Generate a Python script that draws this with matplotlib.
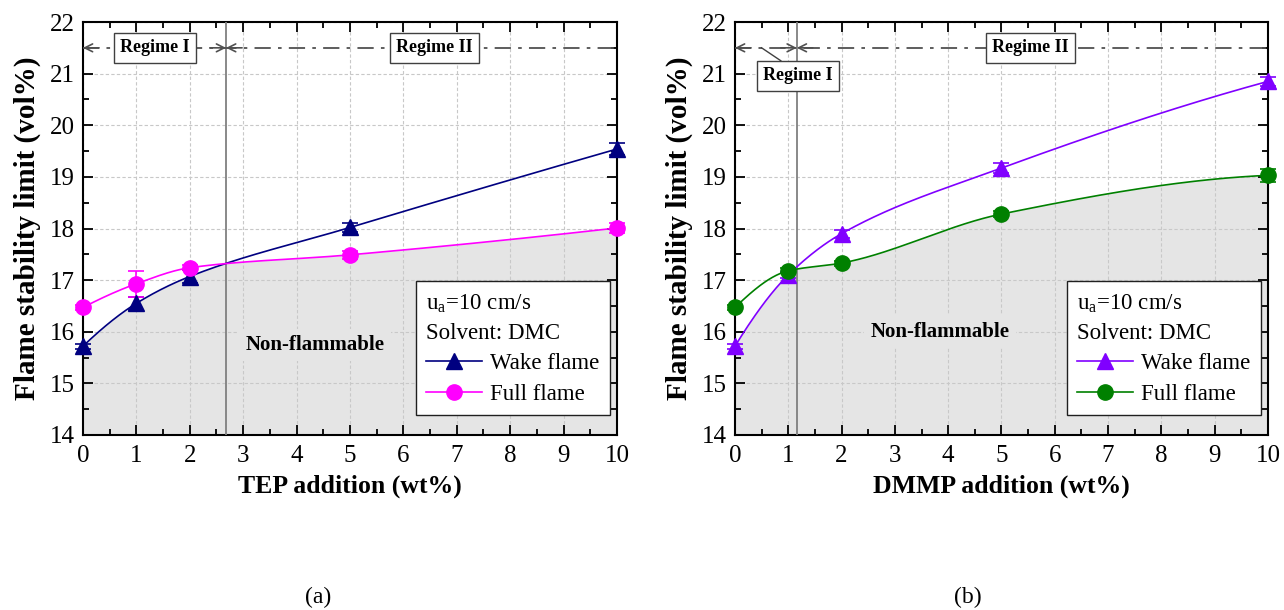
import numpy as np
import matplotlib
matplotlib.use("Agg")
import matplotlib.pyplot as plt
from matplotlib.lines import Line2D
from matplotlib.ticker import MultipleLocator

plt.rcParams['font.family'] = ['Liberation Serif', 'DejaVu Serif']
plt.rcParams['mathtext.fontset'] = 'custom'
plt.rcParams['mathtext.rm'] = 'Liberation Serif'

# ---------------- data ----------------
x_add = [0, 1, 2, 5, 10]

# (a) TEP
tep_wake = [15.72, 16.55, 17.07, 18.02, 19.54]
tep_wake_err = [0.05, 0.12, 0.12, 0.08, 0.12]
tep_full = [16.47, 16.93, 17.24, 17.49, 18.01]
tep_full_err = [0.05, 0.25, 0.05, 0.08, 0.10]
tep_boundary = 2.68

# (b) DMMP
dmmp_wake = [15.72, 17.10, 17.90, 19.17, 20.85]
dmmp_wake_err = [0.05, 0.05, 0.08, 0.10, 0.08]
dmmp_full = [16.47, 17.18, 17.33, 18.28, 19.03]
dmmp_full_err = [0.05, 0.05, 0.05, 0.05, 0.12]
dmmp_boundary = 1.16

regime_y = 21.5
xlabels = ['TEP addition (wt%)', 'DMMP addition (wt%)']
ylabel = 'Flame stability limit (vol%)'
captions = ['(a)', '(b)']
legend_title = 'u$_{\\mathrm{a}}$=10 cm/s\nSolvent: DMC'


def pchip(x, y, xs):
    x = np.asarray(x, float); y = np.asarray(y, float)
    h = np.diff(x); d = np.diff(y) / h
    n = len(x)
    m = np.zeros(n)
    for k in range(1, n - 1):
        if d[k - 1] * d[k] > 0:
            w1 = 2 * h[k] + h[k - 1]; w2 = h[k] + 2 * h[k - 1]
            m[k] = (w1 + w2) / (w1 / d[k - 1] + w2 / d[k])
    m[0] = ((2 * h[0] + h[1]) * d[0] - h[0] * d[1]) / (h[0] + h[1])
    if np.sign(m[0]) != np.sign(d[0]):
        m[0] = 0
    elif np.sign(d[0]) != np.sign(d[1]) and abs(m[0]) > 3 * abs(d[0]):
        m[0] = 3 * d[0]
    m[-1] = ((2 * h[-1] + h[-2]) * d[-1] - h[-1] * d[-2]) / (h[-1] + h[-2])
    if np.sign(m[-1]) != np.sign(d[-1]):
        m[-1] = 0
    elif np.sign(d[-1]) != np.sign(d[-2]) and abs(m[-1]) > 3 * abs(d[-1]):
        m[-1] = 3 * d[-1]
    out = np.empty_like(xs)
    for j, xv in enumerate(xs):
        i = min(max(np.searchsorted(x, xv) - 1, 0), n - 2)
        t = (xv - x[i]) / h[i]
        h00 = 2 * t ** 3 - 3 * t ** 2 + 1; h10 = t ** 3 - 2 * t ** 2 + t
        h01 = -2 * t ** 3 + 3 * t ** 2; h11 = t ** 3 - t ** 2
        out[j] = h00 * y[i] + h10 * h[i] * m[i] + h01 * y[i + 1] + h11 * h[i] * m[i + 1]
    return out


fig = plt.figure(figsize=(12.84, 6.10), dpi=100)
ax_a = fig.add_axes([0.0646, 0.2869, 0.4159, 0.677])
ax_b = fig.add_axes([0.5724, 0.2869, 0.4151, 0.677])

panels = [
    (ax_a, tep_wake, tep_wake_err, tep_full, tep_full_err, tep_boundary,
     '#000080', '#ff00ff', xlabels[0], captions[0]),
    (ax_b, dmmp_wake, dmmp_wake_err, dmmp_full, dmmp_full_err, dmmp_boundary,
     '#8000ff', '#008000', xlabels[1], captions[1]),
]

caption_x = [0.2477, 0.754]
xs = np.linspace(0, 10, 400)
for idx, (ax, wake, wake_e, full, full_e, bnd, cw, cf, xl, cap) in enumerate(panels):
    sw = pchip(x_add, wake, xs)
    sf = pchip(x_add, full, xs)
    ax.fill_between(xs, 14, np.minimum(sw, sf), color='#e5e5e5', lw=0, zorder=0.2)
    ax.plot(xs, sw, color=cw, lw=1.2, zorder=3)
    ax.plot(xs, sf, color=cf, lw=1.2, zorder=3)
    ax.errorbar(x_add, wake, yerr=wake_e, fmt='^', color=cw, ms=12, capsize=6,
                elinewidth=1.2, capthick=1.2, zorder=4, clip_on=False)
    ax.errorbar(x_add, full, yerr=full_e, fmt='o', color=cf, ms=11, capsize=6,
                elinewidth=1.2, capthick=1.2, zorder=4, clip_on=False)

    ax.axvline(bnd, color='#808080', lw=1.3, zorder=2.6)

    # regime arrows
    ax.plot([0, 10], [regime_y, regime_y], ls=(0, (9, 4, 2, 4)), color='#505050', lw=1.3, zorder=2.7)
    for xa, xb in [(0.3, 0), (bnd - 0.3, bnd), (bnd + 0.3, bnd)]:
        ax.annotate('', xy=(xb, regime_y), xytext=(xa, regime_y),
                    arrowprops=dict(arrowstyle='->', color='#505050', lw=1.2,
                                    shrinkA=0, shrinkB=0, mutation_scale=14), zorder=2.8)

    box = dict(boxstyle='square,pad=0.35', fc='white', ec='#404040', lw=1.0)
    nf_box = dict(boxstyle='square,pad=0.3', fc='#e5e5e5', ec='none')
    if idx == 0:
        ax.text(1.35, regime_y, 'Regime I', ha='center', va='center', fontsize=13,
                fontweight='bold', bbox=box, zorder=5)
        ax.text(6.58, regime_y, 'Regime II', ha='center', va='center', fontsize=13,
                fontweight='bold', bbox=box, zorder=5)
        ax.text(4.35, 15.74, 'Non-flammable', ha='center', va='center', fontsize=15,
                fontweight='bold', zorder=5, bbox=nf_box)
    else:
        ax.plot([0.5, 0.86], [21.5, 21.25], color='#404040', lw=1.0, zorder=2.9)
        ax.text(1.18, 20.96, 'Regime I', ha='center', va='center', fontsize=13,
                fontweight='bold', bbox=box, zorder=5)
        ax.text(5.55, regime_y, 'Regime II', ha='center', va='center', fontsize=13,
                fontweight='bold', bbox=box, zorder=5)
        ax.text(3.85, 16.0, 'Non-flammable', ha='center', va='center', fontsize=15,
                fontweight='bold', zorder=5, bbox=nf_box)

    ax.set_xlim(0, 10)
    ax.set_ylim(14, 22)
    ax.xaxis.set_major_locator(MultipleLocator(1))
    ax.xaxis.set_minor_locator(MultipleLocator(0.5))
    ax.yaxis.set_major_locator(MultipleLocator(1))
    ax.yaxis.set_minor_locator(MultipleLocator(0.5))
    ax.tick_params(which='both', direction='in', top=True, right=True, width=1.3)
    ax.tick_params(which='major', length=7, labelsize=18)
    ax.tick_params(axis='x', which='major', pad=7)
    ax.tick_params(axis='y', which='major', pad=6)
    ax.tick_params(which='minor', length=4)
    ax.set_axisbelow('line')
    ax.grid(True, which='major', ls=(0, (3, 2)), color='#c8c8c8', lw=0.8)
    for sp in ax.spines.values():
        sp.set_linewidth(1.5)
    ax.set_xlabel(xl, fontsize=18.5, fontweight='bold', labelpad=6)
    ax.set_ylabel(ylabel, fontsize=21, fontweight='bold', labelpad=6)

    handles = [Line2D([], [], color=cw, marker='^', ms=12, lw=1.2),
               Line2D([], [], color=cf, marker='o', ms=11, lw=1.2)]
    leg = ax.legend(handles, ['Wake flame', 'Full flame'], title=legend_title,
                    loc='lower right', bbox_to_anchor=(0.987, 0.048), borderaxespad=0,
                    fontsize=16.5, title_fontsize=16.5, alignment='left',
                    fancybox=False, edgecolor='#202020', framealpha=1,
                    handlelength=2.45, handletextpad=0.35, labelspacing=0.42,
                    borderpad=0.45)
    leg.get_title().set_multialignment('left')
    leg.get_title().set_linespacing(1.5)
    leg.get_frame().set_linewidth(1.0)
    leg.set_zorder(6)

    fig.text(caption_x[idx], 0.021, cap, ha='center', va='center', fontsize=17)

fig.savefig('out.png', dpi=100)
